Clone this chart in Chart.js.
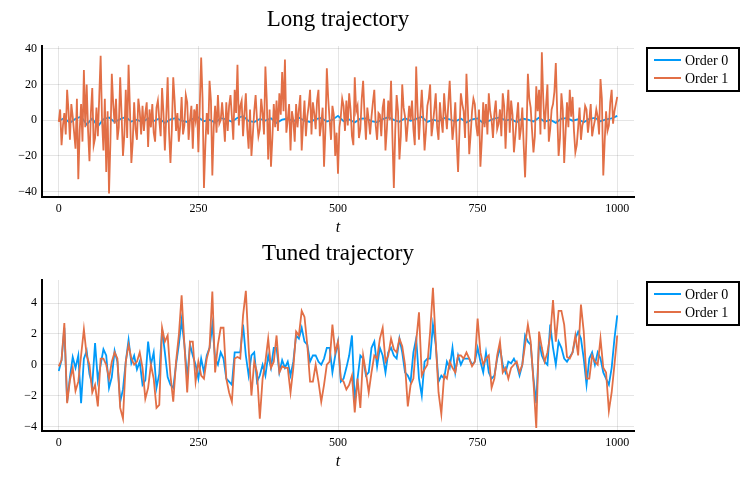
<!DOCTYPE html>
<html>
<head>
<meta charset="utf-8">
<script src="https://cdn.jsdelivr.net/npm/chart.js@4.4.1/dist/chart.umd.min.js"></script>
<style>
  html, body { margin: 0; padding: 0; background: #fff; }
  .panel { position: absolute; left: 0; width: 747px; height: 240px; }
</style>
</head>
<body>
<div class="panel" style="top:0"><canvas id="longChart" width="747" height="240"></canvas></div>
<div class="panel" style="top:234px"><canvas id="tunedChart" width="747" height="240"></canvas></div>
<script>
// x ticks shared by both panels
const tickT = [0, 250, 500, 750, 1000];
const longTicksY = [-40, -20, 0, 20, 40];
const tunedTicksY = [-4, -2, 0, 2, 4];
const seriesLabels = ['Order 0', 'Order 1'];

// Long trajectory, order 0 (t = 0..1000, every 10)
const longOrder0 = [
  -0.5, 1.2, -1.5, 0.8, 2.0, -2.5, 1.0, -3.5, 0.5, 1.5,
  -1.0, 0.6, 1.8, -0.8, 0.3, -1.2, 1.0, -0.5, 0.9, -1.6,
  0.4, 1.2, -0.3, -1.0, 0.8, 1.5, -0.6, 0.2, -1.4, 1.1,
  0.5, -0.9, 1.3, 2.2, -0.4, -1.1, 0.7, -0.2, 1.0, -1.5,
  0.3, 0.9, -0.7, 1.4, -0.3, -1.0, 0.6, 1.2, -0.8, 0.2,
  2.4, -0.6, 0.4, -1.3, 0.8, 1.0, -0.5, -1.2, 0.6, 1.6,
  0.2, -0.9, 1.1, -0.4, 0.7, 1.9, -1.0, 0.3, -0.6, 1.2,
  0.5, -0.8, 0.9, -1.3, 0.4, 1.0, -1.7, -0.4, 0.8, 1.5,
  -0.2, 0.6, -1.1, 0.9, 0.3, -0.7, 1.4, -0.9, 0.2, -1.5,
  0.8, 1.1, -0.3, 0.5, -1.2, 0.7, 1.3, -0.6, 0.4, 1.0,
  2.4
];

// Long trajectory, order 1 (t = 0..1000, every 2.5)
const longOrder1 = [
  -1, 6, -14, -3, 4, -8, 17, 5, -11, 9, 2, -7, -16, 12, -33, -6, 9, -12, 28, -4,
  20, -6, -23, 4, 18, -14, -10, 7, -9, 13, 36, 0, -17, 12, -29, 5, -41, -12, 26, 9,
  -2, 12, -11, -4, 24, 3, -20, -8, 17, -10, 31, 6, -24, -12, 10, -5, -11, 12, 5, -8,
  8, -6, 4, 10, -15, 6, -4, 9, -7, -12, 7, 11, 0, -9, 18, 4, -17, 2, 24, -7,
  -24, -5, 24, 11, -6, 4, -12, -3, 13, -8, -3, 14, 10, -11, 0, 8, -16, 6, 0, 9,
  -18, 8, 35, 12, -38, -14, 4, -8, 22, 11, -31, -4, 8, -7, 14, -2, 0, 10, 0, -12,
  10, -6, 8, 14, 2, -11, 17, 4, 31, -3, 8, 11, -9, 4, 15, -5, -16, 6, -20, -8,
  5, 14, 0, -9, -5, 12, 4, -8, 30, 11, -22, 6, -26, -10, 9, -4, 11, -6, 15, 3,
  27, 5, 34, -7, 0, 9, -17, 5, 0, -12, 9, -4, 6, 14, -17, -2, 11, -9, 2, 8,
  17, -8, 10, 4, -5, 11, 17, -9, -2, 7, -26, -5, 29, 12, 0, -11, 8, 3, -20, -7,
  -30, -4, 2, 12, 8, -6, 11, -3, 15, 6, -9, -14, 24, 5, 8, -10, -5, 12, 22, 3,
  -11, 7, 0, -8, 2, 10, 17, -3, -11, 4, 3, -9, 7, 12, -17, -5, 11, 0, 22, -10,
  -38, -6, 14, 5, -22, -9, 20, 7, 2, -12, -2, 8, 0, 11, -5, -14, 30, 6, -11, 3,
  17, 2, -17, -6, 8, 12, 20, -9, -2, 6, 15, -4, -11, 10, 0, -7, 15, 4, -5, 9,
  22, 4, -11, -3, 10, -12, -29, -6, 15, 9, 5, -10, 26, 7, -19, -8, 5, 12, 9, -3,
  -9, 6, -26, -11, 10, -4, 9, -8, 15, 5, 0, -10, 4, 11, -5, -2, 6, -9, 15, 8,
  -16, 4, 17, -7, 11, 3, -18, -9, 1, 10, -11, -5, 7, -14, -32, -8, 26, 12, 7, -6,
  -18, -9, 19, 5, 17, -8, 38, 12, -5, 8, 20, -12, -5, 6, 9, 16, 32, 4, -20, -10,
  15, 6, -24, -7, 10, -4, 17, 2, 13, -6, -18, -14, -4, 7, -11, -3, 0, 8, 6, -7,
  0, 9, -9, -4, 0, 6, 2, -8, 23, 12, -31, -12, 5, -6, -3, 10, 17, -2, 5, 9,
  13
];

// Tuned trajectory, order 0 (t = 0..1000, every 5)
const tunedOrder0 = [
  -0.4, 0.3, 2.4, -2.4, -0.8, 0.5, -0.2, 0.6, -2.5, 0.4,
  0.9, -0.6, -1.3, 1.4, -1.0, 0, 1.0, 0.6, -1.5, -0.8,
  0.9, 0.2, -2.4, -1.6, 0.2, 1.6, 0.1, 0.6, -0.3, 0.2,
  -1.3, -1.0, 1.5, 0, 0.8, -1.5, -0.6, 2.3, 0.8, -0.8,
  -1.3, -1.5, 0, 1.3, 2.9, 1.3, -0.9, 1.3,
  0.6, 0, -0.9, 0.4, -0.5, 0.6, 1.1, 2.6, 0.4, 0,
  0.8, 0.4, -0.9, -1.1, -1.3, 0.8, 0.8, 0.8, 2.6, 0.6,
  -0.7, 0.6, 0.8, -1.1, -0.7, 0, -0.7, 0.6, -0.2, 1.1,
  1.1, -0.5, 0.3, -0.2, 0.2, -0.7, 0.2, 1.9, 1.7, 2.4,
  1.5, 1.3, 0.2, 0.6, 0.6, 0.2, 0, 0.4, 1.1, 1.1,
  -0.5, 0.6, 1.5,
  -1.1, -0.9, -0.2, 0.6, 1.9, -2.4, -0.9, 0.6, 0.4, -0.7,
  -0.5, 1.1, 1.5, -0.1, 1.1, 0.6, -0.5, 0.8, 1.1, 0.6,
  0.4, 1.7, 0.8, -0.5, -0.7, -1.1, 0.8, 1.7, -0.9, -2.0,
  0.2, 0.4, 0.4, 2.6, 1.3, -1.1, -0.7, -0.9, 0.2, -0.2,
  1.1, -0.5, 0.6, 0, 0.4, 0.4, 0.4, 0, 0.2, 1.1,
  0.2, -0.5, 0.8,
  -0.5, -0.9, -0.7, 0.4, 1.1, 0, -0.5, 0.2, 0.1, 0.4,
  0, -0.7, 0, 1.9, 1.5, 1.3, -0.9, -2.5, 1.5, 0.6,
  0.2, 0, 2.6, 1.1, 0, 1.5, 1.1, 0.4, 0.2, 0.5,
  0.8, 1.7, 2.15, 1.7, 0.4, -1.3, 0.4, 0.8, 0, 0.8,
  0.4, -0.5, -0.9, -1.3, -0.2, 1.7, 3.2
];

// Tuned trajectory, order 1 (t = 0..1000, every 5)
const tunedOrder1 = [
  -0.1, 0.3, 2.7, -2.5, -1.0, -0.2, -1.7, -1.1, 0.6, 2.3,
  0.6, 0, -1.8, -1.3, -2.7, 0.4, 0.4, 0, -0.9, 0.2,
  0.8, 0.4, -2.8, -3.5, 0.2, 1.3, 0.4, 0, 0.2, 0.8,
  -0.2, -2.2, -1.5, 0, -0.9, -2.8, -2.6, 2.4, 1.5, 1.9,
  -0.7, -2.4, 0.2, 1.9, 4.5, 1.3, -1.8, 1.5,
  1.5, -1.1, 0.2, -0.7, -0.9, 0.4, 1.1, 4.75, -0.5, 1.3,
  2.4, 2.4, -0.9, -1.8, -2.4, 0.4, 0.5, 0.4, 3.2, 4.8,
  1.1, -2.0, 0.2, -0.5, -3.5, -0.9, 0.2, 1.7, -0.2, 0.2,
  1.9, -0.5, -0.1, -0.2, -0.2, -1.8, -0.2, 2.15, 1.9, 3.5,
  3.1, 1.3, -1.1, -1.1, 0, -1.1, -2.4, -1.3, 0, 0.2,
  2.6, 0.8, 1.5,
  -0.9, -1.1, -1.6, -1.3, -0.7, -3.1, -0.9, -2.8, 0.6, -0.5,
  -1.8, -0.5, 0.6, 0.4, 1.7, 2.4, 0.2, 0.6, 1.7, 1.0,
  0.8, 1.7, 1.2, 0, -2.7, -1.3, -0.9, 1.5, 3.4, -0.7,
  -0.3, 0, 2.15, 5.0, 1.5, -1.8, -3.2, -0.7, -0.9, 0.2,
  -0.2, -0.5, 0.6, 0.6, 0.4, 0.8, 0.4, -0.1, 0.2, 3.0,
  0.8, 0, 0.4,
  0.6, -1.5, -0.9, 0.6, 1.5, -0.5, -0.2, -0.9, -0.2, 0,
  0.2, -0.5, 0, 1.3, 2.6, 1.5, -1.1, -4.1, 2.15, 1.1,
  0.2, 0.8, 1.9, 4.2, 1.5, 3.5, 3.5, 2.6, 0.5, 0.4,
  0.8, 1.9, 0.6, 3.9, 2.15, -0.9, -0.9, 0.6, 0.2, 0,
  1.7, -0.2, -0.5, -3.0, -1.8, 0, 1.9
];

const BLUE = '#009af9';
const ORANGE = '#e26f46';
const GRID = 'rgba(0,0,0,0.1)';
const SERIF = '"Liberation Serif", "DejaVu Serif", serif';

// spread the values evenly over t = 0..1000
function toPoints(values) {
  const step = 1000 / (values.length - 1);
  return values.map((v, i) => ({ x: i * step, y: v }));
}

function minusSign(v) {
  return v < 0 ? '\u2212' + Math.abs(v) : String(v);
}

// title above the plot and the boxed legend to its right
const framePlugin = {
  id: 'frame',
  afterDraw(chart, args, opts) {
    const ctx = chart.ctx;
    const a = chart.chartArea;
    ctx.save();
    ctx.fillStyle = '#000';
    ctx.textAlign = 'center';
    ctx.textBaseline = 'middle';
    ctx.font = '23px ' + SERIF;
    ctx.fillText(opts.title, (a.left + a.right) / 2, 20);

    const bx = a.right + 13, by = 48, bw = 92, bh = 43;
    ctx.fillStyle = '#fff';
    ctx.fillRect(bx, by, bw, bh);
    ctx.lineWidth = 2;
    ctx.strokeStyle = '#000';
    ctx.strokeRect(bx, by, bw, bh);
    ctx.font = '14px ' + SERIF;
    ctx.textAlign = 'left';
    chart.data.datasets.forEach((ds, i) => {
      const y = by + 12 + i * 18;
      ctx.strokeStyle = ds.borderColor;
      ctx.lineWidth = 2;
      ctx.beginPath();
      ctx.moveTo(bx + 7, y);
      ctx.lineTo(bx + 34, y);
      ctx.stroke();
      ctx.fillStyle = '#000';
      ctx.fillText(ds.label, bx + 38, y + 1);
    });
    ctx.restore();
  }
};

function makeChart(id, title, s0, s1, yMin, yMax, yTicks) {
  return new Chart(document.getElementById(id), {
    type: 'line',
    data: {
      datasets: [
        { label: seriesLabels[0], data: toPoints(s0), borderColor: BLUE, order: 2 },
        { label: seriesLabels[1], data: toPoints(s1), borderColor: ORANGE, order: 1 }
      ]
    },
    options: {
      responsive: false,
      animation: false,
      layout: { padding: { top: 46, right: 113, left: 0, bottom: 0 } },
      elements: {
        point: { radius: 0 },
        line: { borderWidth: 1.8, tension: 0 }
      },
      plugins: {
        legend: { display: false },
        tooltip: { enabled: false },
        frame: { title: title }
      },
      scales: {
        x: {
          type: 'linear',
          min: -30,
          max: 1030,
          afterBuildTicks: s => { s.ticks = tickT.map(v => ({ value: v })); },
          afterFit: s => { s.height = 43; },
          grid: { color: GRID, drawTicks: false },
          border: { color: '#000', width: 2 },
          ticks: {
            padding: 5, color: '#000', maxRotation: 0, autoSkip: false,
            font: { family: SERIF, size: 12 },
            callback: v => String(v)
          },
          title: {
            display: true, text: 't', color: '#000',
            font: { family: SERIF, size: 16, style: 'italic' },
            padding: { top: 0, bottom: 3 }
          }
        },
        y: {
          min: yMin,
          max: yMax,
          afterBuildTicks: s => { s.ticks = yTicks.map(v => ({ value: v })); },
          afterFit: s => { s.width = 42; },
          grid: { color: GRID, drawTicks: false },
          border: { color: '#000', width: 2 },
          ticks: {
            padding: 5, color: '#000', autoSkip: false,
            font: { family: SERIF, size: 12 },
            callback: v => minusSign(v)
          }
        }
      }
    },
    plugins: [framePlugin]
  });
}

makeChart('longChart', 'Long trajectory', longOrder0, longOrder1, -43, 41.5, longTicksY);
makeChart('tunedChart', 'Tuned trajectory', tunedOrder0, tunedOrder1, -4.3, 5.5, tunedTicksY);
</script>
</body>
</html>
